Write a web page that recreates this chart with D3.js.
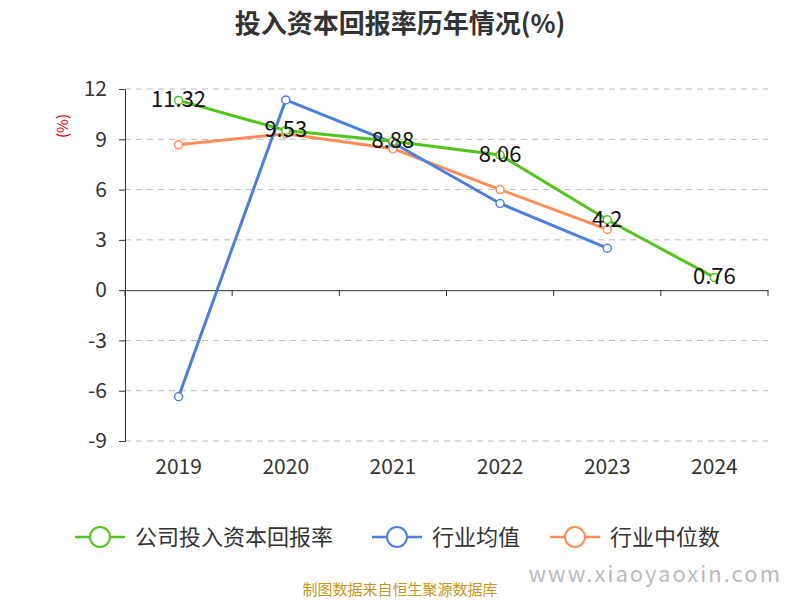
<!DOCTYPE html><html><head><meta charset="utf-8"><script src="https://cdn.jsdelivr.net/npm/d3@7"></script>
<style>body{margin:0;background:#fff}text{font-family:"Noto Sans CJK SC","Noto Sans",sans-serif}</style></head><body>
<svg id="c" width="800" height="600"></svg>
<script>
const years=["2019","2020","2021","2022","2023","2024"];
const company=[11.32,9.53,8.88,8.06,4.2,0.76];
const industryAvg=[-6.36,11.35,8.79,5.17,2.5,null];
const industryMed=[8.67,9.33,8.44,6.0,3.62,null];
const yTicks=[12,9,6,3,0,-3,-6,-9];
const svg=d3.select("#c");
const x=d3.scaleBand().domain(years).range([125,768]);
const y=d3.scaleLinear().domain([-9,12]).range([441,89]);
svg.append("text").attr("x",400).attr("y",33).attr("text-anchor","middle").attr("font-size",26).attr("font-weight","bold").attr("fill","#333").text("投入资本回报率历年情况(%)");
svg.append("text").attr("transform","translate(68,126) rotate(-90)").attr("text-anchor","middle").attr("font-size",15).attr("fill","#e00").text("(%)");
yTicks.forEach(t=>{ if(t!==0) svg.append("line").attr("x1",125).attr("x2",768).attr("y1",y(t)).attr("y2",y(t)).attr("stroke","#bbb").attr("stroke-dasharray","6,5");});
const ya=svg.append("g").attr("transform","translate(125,0)").call(d3.axisLeft(y).tickValues(yTicks).tickSize(6).tickPadding(12).tickFormat(d=>String(d)));
ya.selectAll("text").attr("font-size",21).attr("fill","#333");
ya.select(".domain").attr("stroke","#333");ya.selectAll(".tick line").attr("stroke","#333");
const xa=svg.append("g").attr("transform",`translate(0,${y(0)})`).call(d3.axisBottom(x).tickSize(0).tickFormat(""));
xa.select(".domain").attr("stroke","#333");
years.forEach((d,i)=>{svg.append("line").attr("x1",x(d)+x.bandwidth()).attr("x2",x(d)+x.bandwidth()).attr("y1",y(0)).attr("y2",y(0)+6).attr("stroke","#333");
svg.append("text").attr("x",x(d)+x.bandwidth()/2).attr("y",474).attr("text-anchor","middle").attr("font-size",21).attr("fill","#333").text(d);});
svg.append("line").attr("x1",125).attr("x2",125).attr("y1",y(0)).attr("y2",y(0)+6).attr("stroke","#333");
const cx=d=>x(d)+x.bandwidth()/2;
const series=[[industryMed,"#ff8c55"],[industryAvg,"#4a7fe0"],[company,"#52c41a"]];
series.forEach(([vals,col])=>{
 const pts=years.map((d,i)=>[d,vals[i]]).filter(p=>p[1]!=null);
 svg.append("path").attr("d",d3.line().x(p=>cx(p[0])).y(p=>y(p[1]))(pts)).attr("fill","none").attr("stroke",col).attr("stroke-width",3);
 pts.forEach(p=>svg.append("circle").attr("cx",cx(p[0])).attr("cy",y(p[1])).attr("r",4).attr("fill","#fff").attr("stroke",col).attr("stroke-width",1.5));
});
years.forEach((d,i)=>svg.append("text").attr("x",cx(d)).attr("y",y(company[i])+7).attr("text-anchor","middle").attr("font-size",22).attr("fill","#111").text(company[i]));
const leg=[["公司投入资本回报率","#52c41a",75],["行业均值","#4a7fe0",372],["行业中位数","#ff8c55",550]];
leg.forEach(([t,c,lx])=>{svg.append("line").attr("x1",lx).attr("x2",lx+50).attr("y1",537).attr("y2",537).attr("stroke",c).attr("stroke-width",2.5);
svg.append("circle").attr("cx",lx+25).attr("cy",537).attr("r",10).attr("fill","#fff").attr("stroke",c).attr("stroke-width",2);
svg.append("text").attr("x",lx+60).attr("y",545).attr("font-size",22).attr("fill","#333").text(t);});
svg.append("text").attr("x",400).attr("y",595).attr("text-anchor","middle").attr("font-size",15).attr("fill","#c8961e").text("制图数据来自恒生聚源数据库");
svg.append("text").attr("x",782).attr("y",582).attr("text-anchor","end").attr("font-size",22).attr("fill","#bbb").attr("letter-spacing",2).text("www.xiaoyaoxin.com");
</script></body></html>
